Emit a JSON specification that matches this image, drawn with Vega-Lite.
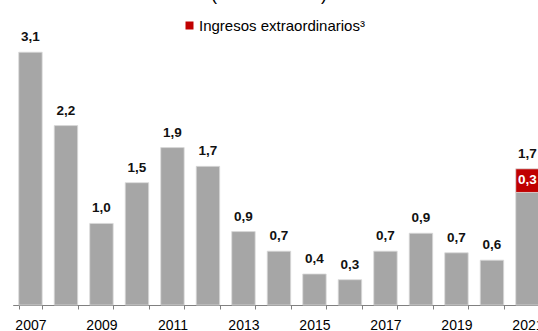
{
  "$schema": "https://vega.github.io/schema/vega-lite/v6.json",
  "autosize": {"type": "none"},
  "width": 538,
  "height": 305,
  "padding": {"left": 0, "top": 0, "right": 0, "bottom": 26},
  "background": "white",
  "title": {"text": "(en % del PIB)", "fontSize": 18, "font": "Liberation Sans", "fontWeight": "normal", "color": "#000000", "anchor": "middle", "baseline": "alphabetic", "offset": 0, "dy": 18},
  "data": {"values": [
    {"year": "2007", "serie": "Base", "value": 3.1, "top": "3,1", "inner": ""},
    {"year": "2008", "serie": "Base", "value": 2.2, "top": "2,2", "inner": ""},
    {"year": "2009", "serie": "Base", "value": 1.0, "top": "1,0", "inner": ""},
    {"year": "2010", "serie": "Base", "value": 1.5, "top": "1,5", "inner": ""},
    {"year": "2011", "serie": "Base", "value": 1.93, "top": "1,9", "inner": ""},
    {"year": "2012", "serie": "Base", "value": 1.7, "top": "1,7", "inner": ""},
    {"year": "2013", "serie": "Base", "value": 0.9, "top": "0,9", "inner": ""},
    {"year": "2014", "serie": "Base", "value": 0.66, "top": "0,7", "inner": ""},
    {"year": "2015", "serie": "Base", "value": 0.38, "top": "0,4", "inner": ""},
    {"year": "2016", "serie": "Base", "value": 0.31, "top": "0,3", "inner": ""},
    {"year": "2017", "serie": "Base", "value": 0.66, "top": "0,7", "inner": ""},
    {"year": "2018", "serie": "Base", "value": 0.88, "top": "0,9", "inner": ""},
    {"year": "2019", "serie": "Base", "value": 0.64, "top": "0,7", "inner": ""},
    {"year": "2020", "serie": "Base", "value": 0.55, "top": "0,6", "inner": ""},
    {"year": "2021", "serie": "Base", "value": 1.38, "top": "", "inner": ""},
    {"year": "2021", "serie": "Ingresos extraordinarios³", "value": 0.29, "top": "1,7", "inner": "0,3"}
  ]},
  "encoding": {
    "x": {
      "field": "year", "type": "nominal",
      "scale": {"range": [12.7, 545.2], "paddingInner": 0.34, "paddingOuter": 0.17},
      "axis": {
        "title": null, "labelAngle": 0, "tickBand": "extent", "tickSize": 4,
        "tickColor": "#808080", "domainColor": "#808080", "labelPadding": 9,
        "labelFont": "Liberation Sans", "labelFontSize": 14, "labelColor": "#000000",
        "labelExpr": "toNumber(datum.value) % 2 == 1 ? datum.label : ''",
        "grid": false
      }
    },
    "y": {
      "field": "value", "type": "quantitative", "stack": "zero",
      "scale": {"domain": [0, 3.74], "nice": false},
      "axis": null
    },
    "order": {"field": "serie", "type": "nominal"}
  },
  "layer": [
    {
      "mark": {"type": "bar", "stroke": "#d9d9d9", "strokeWidth": 0.8},
      "encoding": {
        "color": {
          "field": "serie", "type": "nominal",
          "scale": {"domain": ["Base", "Ingresos extraordinarios³"], "range": ["#a6a6a6", "#c00000"]},
          "legend": {
            "values": ["Ingresos extraordinarios³"], "title": null, "orient": "none",
            "legendX": 182, "legendY": 18, "symbolType": "square", "symbolSize": 64,
            "symbolStrokeWidth": 0, "labelFont": "Liberation Sans", "labelFontSize": 15,
            "labelColor": "#000000", "padding": 0, "labelOffset": 2, "labelLimit": 400
          }
        }
      }
    },
    {
      "mark": {"type": "text", "baseline": "bottom", "dy": -8, "font": "Liberation Sans", "fontSize": 13.5, "fontWeight": "bold", "color": "#111111"},
      "encoding": {"detail": {"field": "serie"}, "text": {"field": "top"}}
    },
    {
      "mark": {"type": "text", "baseline": "top", "dy": 4, "font": "Liberation Sans", "fontSize": 13.5, "fontWeight": "bold", "color": "#ffffff"},
      "encoding": {"detail": {"field": "serie"}, "text": {"field": "inner"}}
    }
  ],
  "config": {"view": {"stroke": null}}
}
